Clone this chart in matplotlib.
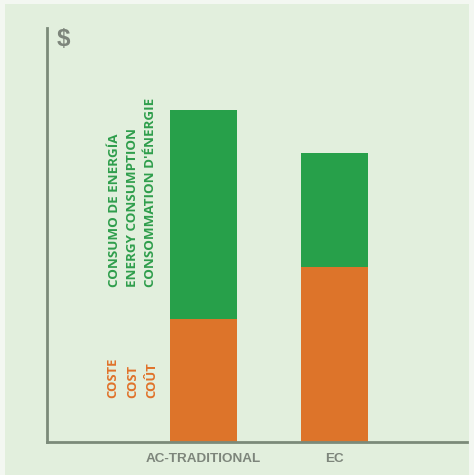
import matplotlib.pyplot as plt
from matplotlib.patches import Rectangle

categories = ["AC-TRADITIONAL", "EC"]
cost = [29.7, 42.3]
energy = [50.5, 27.5]

cost_labels = ["COSTE", "COST", "COÛT"]
energy_labels = ["CONSUMO DE ENERGÍA", "ENERGY CONSUMPTION", "CONSOMMATION D'ÉNERGIE"]

W, H = 474, 475
fig = plt.figure(figsize=(W / 100, H / 100), dpi=100)
fig.patch.set_facecolor("#f3f7f1")
fig.patches.append(Rectangle((5 / W, 0), (469 - 5) / W, (H - 4) / H,
                             transform=fig.transFigure, facecolor="#e2efdd",
                             edgecolor="none", zorder=-5))

green = "#27a04a"
orange = "#dd742a"
axis_gray = "#7b8a79"
text_gray = "#7d857b"

x0, x1 = 47 / W, 467 / W
y0, y1 = 1 - 442 / H, 1 - 28 / H
ax = fig.add_axes([x0, y0, x1 - x0, y1 - y0], zorder=2)
ax.set_facecolor("none")

xs = [0, 1]
ax.bar(xs, cost, width=0.51, color=orange, zorder=2)
ax.bar(xs, energy, width=0.51, bottom=cost, color=green, zorder=2)

ax.set_xlim(-1.195, 2.011)
ax.set_ylim(0, 100)

for s in ["top", "right"]:
    ax.spines[s].set_visible(False)
for s in ["left", "bottom"]:
    ax.spines[s].set_color(axis_gray)
    ax.spines[s].set_linewidth(2)
    ax.spines[s].set_zorder(3)

ax.set_yticks([])
ax.set_xticks(xs)
ax.set_xticklabels(categories, fontsize=9.7, fontweight="bold", color=text_gray,
                   family="Liberation Sans")
ax.tick_params(axis="x", length=0, pad=8)

fig.text(57 / W, 1 - 40 / H, "$", fontsize=17.5, fontweight="bold", color=text_gray,
         family="Liberation Sans", va="center", ha="left", zorder=3)

font = dict(family="Open Sans", fontweight="bold", rotation=90,
            ha="center", va="bottom", zorder=3)
for x, t in zip([114, 132, 151], energy_labels):
    fig.text(x / W, 1 - 287 / H, t, color="#2f9e4c", fontsize=9.6, **font)
for x, t in zip([113, 133, 152], cost_labels):
    fig.text(x / W, 1 - 398 / H, t, color="#e0722a", fontsize=9.4, **font)

fig.savefig("out.png", dpi=100, facecolor=fig.get_facecolor())
